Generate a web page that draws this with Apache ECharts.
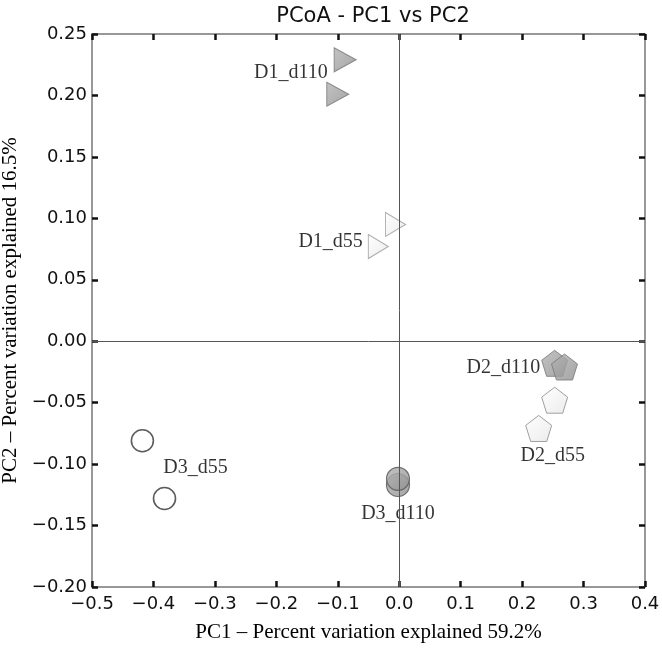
<!DOCTYPE html>
<html><head><meta charset="utf-8">
<script src="https://cdn.jsdelivr.net/npm/echarts@6/dist/echarts.min.js"></script>
<style>html,body{margin:0;padding:0;background:#fff}#c{width:662px;height:648px}</style>
</head><body><div id="c"></div>
<script>
var d1_d110 = [[-0.088, 0.229], [-0.100, 0.201]];
var d1_d55 = [[-0.006, 0.095], [-0.034, 0.077]];
var d2_d110 = [[0.253, -0.018], [0.269, -0.021]];
var d2_d55 = [[0.253, -0.048], [0.227, -0.071]];
var d3_d55 = [[-0.418, -0.081], [-0.382, -0.128]];
var d3_d110 = [[-0.002, -0.117], [-0.002, -0.112]];
var groupNames = ['D1_d110', 'D1_d55', 'D2_d110', 'D2_d55', 'D3_d55', 'D3_d110'];

var tri = 'path://M0,0 L1,0.5 L0,1 Z';
var pent = 'path://M0.5,0 L1,0.363 L0.809,0.951 L0.191,0.951 L0,0.363 Z';
function fmt(v, d){ return v.toFixed(d).replace('-', '\u2212'); }
var serif = '"Liberation Serif", "DejaVu Serif", serif';
var sans = '"DejaVu Sans", sans-serif';
var darkFill = {type:'linear',x:0,y:0,x2:1,y2:1,colorStops:[{offset:0,color:'#b4b4b4'},{offset:1,color:'#8e8e8e'}]};
var lightFill = {type:'linear',x:0,y:0,x2:1,y2:1,colorStops:[{offset:0,color:'#ffffff'},{offset:1,color:'#e6e6e6'}]};

function lab(data, idx, pos, off){
  return data.map(function(p, i){
    var o = {value: p};
    if (i === idx) o.label = {show: true, position: pos, offset: off};
    return o;
  });
}
var labelStyle = {formatter: function(p){ return p.seriesName; }, fontFamily: serif, fontSize: 20, color: '#000'};

var chart = echarts.init(document.getElementById('c'));
var axCommon = {
  axisLine: {show: true, onZero: false, lineStyle: {color: '#777', width: 1.5}},
  axisTick: {show: true, inside: true, length: 6, lineStyle: {color: '#111', width: 2.5}},
  splitLine: {show: false}
};
chart.setOption({
  animation: false,
  title: {text: 'PCoA - PC1 vs PC2', left: 368, textAlign: 'center', top: 1,
    textStyle: {fontFamily: sans, fontSize: 21, fontWeight: 'normal', color: '#111'}},
  grid: {left: 92, right: 17, top: 34, bottom: 61, containLabel: false, outerBoundsMode: 'none'},
  xAxis: [
    Object.assign({type: 'value', min: -0.5, max: 0.4, interval: 0.1, position: 'bottom',
      name: 'PC1 \u2013 Percent variation explained 59.2%', nameLocation: 'middle', nameGap: 35,
      nameTextStyle: {fontFamily: serif, fontSize: 21, color: '#000'},
      axisLabel: {fontFamily: sans, fontSize: 18, color: '#111', margin: 8, formatter: function(v){ return fmt(v,1); }}}, axCommon),
    Object.assign({type: 'value', min: -0.5, max: 0.4, interval: 0.1, position: 'top', axisLabel: {show: false}}, axCommon)
  ],
  yAxis: [
    Object.assign({type: 'value', min: -0.2, max: 0.25, interval: 0.05, position: 'left',
      name: 'PC2 \u2013 Percent variation explained 16.5%', nameLocation: 'middle', nameGap: 65,
      nameTextStyle: {fontFamily: serif, fontSize: 21, color: '#000'},
      axisLabel: {fontFamily: sans, fontSize: 18, color: '#111', margin: 5, formatter: function(v){ return fmt(v,2); }}}, axCommon),
    Object.assign({type: 'value', min: -0.2, max: 0.25, interval: 0.05, position: 'right', axisLabel: {show: false}}, axCommon)
  ],
  series: [
    {name: groupNames[0], type: 'scatter', symbol: tri, symbolSize: [22, 24],
      itemStyle: {color: darkFill, borderColor: '#777', borderWidth: 1},
      label: labelStyle, data: lab(d1_d110, 0, 'left', [-1, 13])},
    {name: groupNames[1], type: 'scatter', symbol: tri, symbolSize: [20, 24],
      itemStyle: {color: lightFill, borderColor: '#999', borderWidth: 1},
      label: labelStyle, data: lab(d1_d55, 1, 'left', [0, -5])},
    {name: groupNames[2], type: 'scatter', symbol: pent, symbolSize: 26,
      itemStyle: {color: darkFill, borderColor: '#777', borderWidth: 1},
      label: labelStyle, data: lab(d2_d110, 0, 'left', [4, 4])},
    {name: groupNames[3], type: 'scatter', symbol: pent, symbolSize: 26,
      itemStyle: {color: lightFill, borderColor: '#888', borderWidth: 1},
      label: labelStyle, data: lab(d2_d55, 1, 'bottom', [14, -1])},
    {name: groupNames[4], type: 'scatter', symbol: 'circle', symbolSize: 22,
      itemStyle: {color: '#fff', borderColor: '#333', borderWidth: 1.6},
      label: labelStyle, data: lab(d3_d55, 1, 'top', [31, -4])},
    {name: groupNames[5], type: 'scatter', symbol: 'circle', symbolSize: 23,
      itemStyle: {color: darkFill, borderColor: '#555', borderWidth: 1.2},
      label: labelStyle, data: lab(d3_d110, 0, 'bottom', [0, 2])},
    {type: 'line', data: [], silent: true,
      markLine: {silent: true, symbol: 'none', label: {show: false},
        lineStyle: {color: '#555', width: 1, type: 'solid'},
        data: [{xAxis: 0}, {yAxis: 0}]}, z: 1}
  ]
});
</script></body></html>
